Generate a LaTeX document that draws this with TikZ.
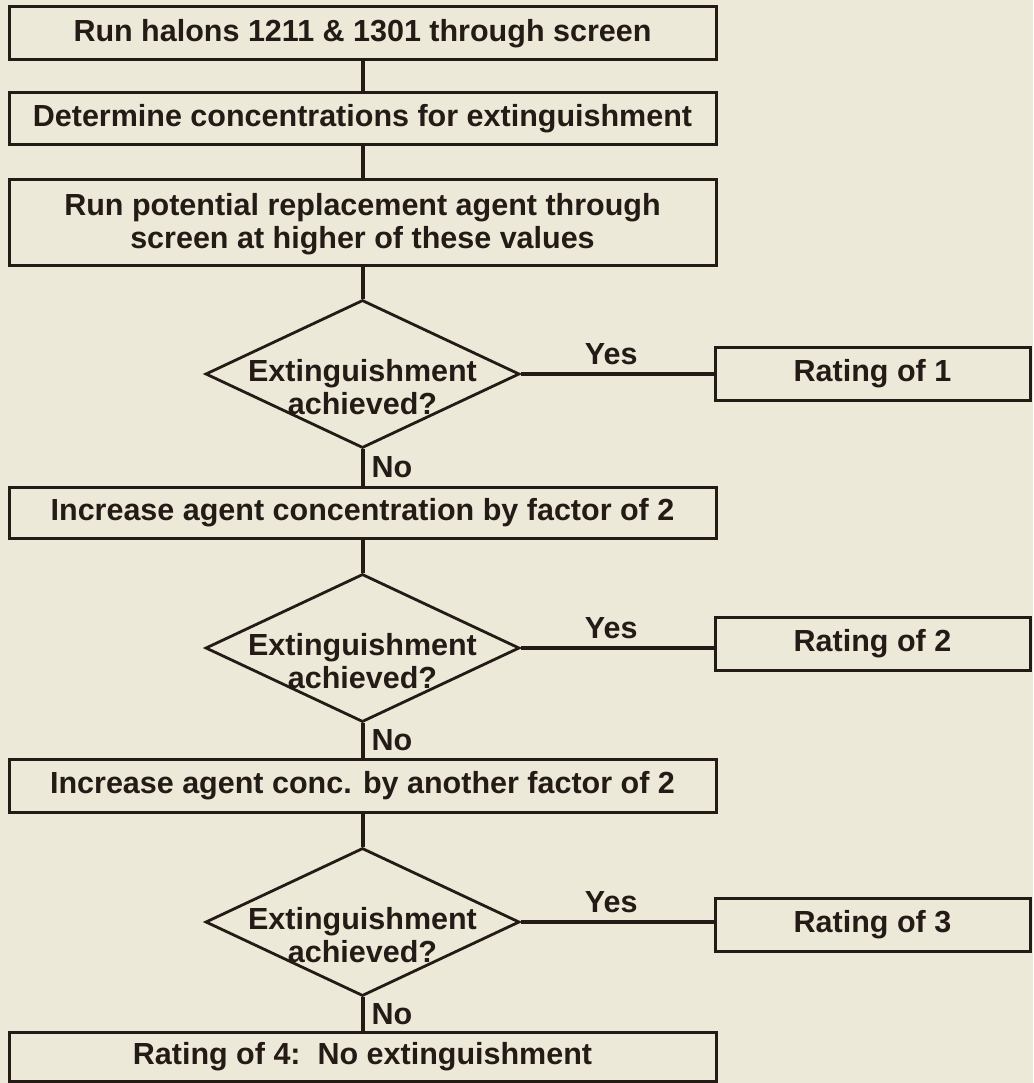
\documentclass[tikz,border=0pt]{standalone}
\usepackage{fontspec}
\setmainfont{Liberation Sans}
\usetikzlibrary{shapes.geometric,calc}
\definecolor{bg}{RGB}{237,233,217}
\definecolor{ink}{RGB}{36,26,22}
\begin{document}
\begin{tikzpicture}[x=1pt,y=-1pt,
  txt/.style={font=\bfseries\fontsize{30.5}{33}\selectfont, text=ink, align=center, inner sep=0pt},
  stepbox/.style={draw=ink, line width=3pt, minimum width=707pt, inner sep=0pt},
  ratebox/.style={draw=ink, line width=3pt, minimum width=315pt, minimum height=53pt, inner sep=0pt},
  decision/.style={draw=ink, line width=2.8pt, diamond, minimum width=314pt, minimum height=148pt, inner sep=0pt},
  conn/.style={draw=ink, line width=4pt},
  lbl/.style={font=\bfseries\fontsize{30.5}{33}\selectfont, text=ink, inner sep=0pt}]
\fill[bg] (0,0) rectangle (1033,1083);
\useasboundingbox (0,0) rectangle (1033,1083);

\node[stepbox, minimum height=53pt] (b1) at (362.5,33.5) {};
\node[txt] (b1t) at (362.5,33.5) {Run halons 1211 \& 1301 through screen};
\node[stepbox, minimum height=52pt] (b2) at (362.5,119) {};
\node[txt] (b2t) at (362.5,119) {Determine concentrations for extinguishment};
\node[stepbox, minimum height=85pt] (b3) at (362.5,222.5) {};
\node[txt] (b3t) at (362.5,224) {Run potential replacement agent through\\screen at higher of these values};

\node[decision] (d1) at (362.5,374) {};
\node[txt] (d1t) at (362.5,387) {Extinguishment\\achieved?};
\node[ratebox] (r1) at (872.5,374) {};
\node[txt] (r1t) at (872.5,374) {Rating of 1};

\node[stepbox, minimum height=51pt] (b4) at (362.5,512.5) {};
\node[txt] (b4t) at (362.5,512.5) {Increase agent concentration by factor of 2};

\node[decision] (d2) at (362.5,648) {};
\node[txt] (d2t) at (362.5,661) {Extinguishment\\achieved?};
\node[ratebox] (r2) at (872.5,644) {};
\node[txt] (r2t) at (872.5,644) {Rating of 2};

\node[stepbox, minimum height=53pt] (b5) at (362.5,785.5) {};
\node[txt] (b5t) at (362.5,785.5) {Increase agent conc. by another factor of 2};

\node[decision] (d3) at (362.5,922) {};
\node[txt] (d3t) at (362.5,935) {Extinguishment\\achieved?};
\node[ratebox] (r3) at (872.5,925) {};
\node[txt] (r3t) at (872.5,925) {Rating of 3};

\node[stepbox, minimum height=49pt] (b6) at (362.5,1056.5) {};
\node[txt] (b6t) at (362.5,1056.5) {Rating of 4:\ \ No extinguishment};

\draw[conn] (b1.south) -- (b2.north);
\draw[conn] (b2.south) -- (b3.north);
\draw[conn] (b3.south) -- (d1.north);
\draw[conn] (d1.south) -- node[lbl, right=7pt] (n1) {No} (b4.north);
\draw[conn] (b4.south) -- (d2.north);
\draw[conn] (d2.south) -- node[lbl, right=7pt] (n2) {No} (b5.north);
\draw[conn] (b5.south) -- (d3.north);
\draw[conn] (d3.south) -- node[lbl, right=7pt] (n3) {No} (b6.north);

\draw[conn] (d1.east) -- node[lbl, above=7pt, xshift=-6pt] (y1) {Yes} (d1.east -| r1.west);
\draw[conn] (d2.east) -- node[lbl, above=7pt, xshift=-6pt] (y2) {Yes} (d2.east -| r2.west);
\draw[conn] (d3.east) -- node[lbl, above=7pt, xshift=-6pt] (y3) {Yes} (d3.east -| r3.west);
\end{tikzpicture}
\end{document}
